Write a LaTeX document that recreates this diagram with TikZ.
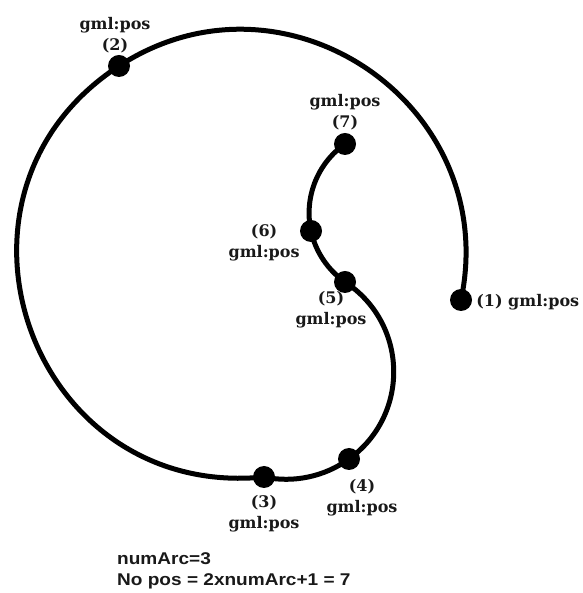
\documentclass[tikz,border=0pt]{standalone}
\usepackage{fontspec}
\setmainfont{DejaVu Serif}
\newfontfamily\notefont[FakeStretch=1.12]{Liberation Sans}
\usetikzlibrary{positioning}
\tikzset{
  dot/.style={circle, fill=black, inner sep=0pt, minimum size=22pt},
  curve/.style={line width=5pt, draw=black},
  tag/.style={font=\fontsize{16}{21}\selectfont\bfseries, align=center, inner sep=0pt, text=black!90},
  note/.style={font=\notefont\fontsize{17}{20}\selectfont\bfseries, align=left, inner sep=0pt, text=black!90}
}

\begin{document}
\begin{tikzpicture}[x=1pt, y=1pt]
  \useasboundingbox (0,0) rectangle (582,593);
  % positions along the curve
  \node[dot] (p1) at (461,293) {};
  \node[dot] (p2) at (119,527) {};
  \node[dot] (p3) at (264,116) {};
  \node[dot] (p4) at (349,134) {};
  \node[dot] (p5) at (345,311) {};
  \node[dot] (p6) at (311,362) {};
  \node[dot] (p7) at (345,449) {};
  % the three arcs
  \draw[curve] (p1.center) to[out=78.1, in=33.1, looseness=1.23] (p2.center)
                           to[out=213.1, in=185.7, looseness=1.38] (p3.center);
  \draw[curve] (p3.center) to[out=-11.9, in=215.8, looseness=0.89] (p4.center)
                           to[out=35.8, in=-33.2, looseness=1.09] (p5.center);
  \draw[curve] (p5.center) to[out=145, in=282.3, looseness=0.88] (p6.center)
                           to[out=102.3, in=215, looseness=0.93] (p7.center);
  % labels
  \node[tag, right=4pt of p1, yshift=-2pt] (l1) {(1) gml:pos};
  \node[tag, above=2pt of p2, xshift=-4pt] (l2) {gml:pos\\(2)};
  \node[tag, below=7pt of p3] (l3) {(3)\\gml:pos};
  \node[tag, below=9pt of p4, xshift=13pt] (l4) {(4)\\gml:pos};
  \node[tag, below=-2pt of p5, xshift=-14pt] (l5) {(5)\\gml:pos};
  \node[tag, left=0pt of p6, yshift=-12pt] (l6) {(6)\\gml:pos};
  \node[tag, above=3pt of p7] (l7) {gml:pos\\(7)};
  \node[note, anchor=base west] (arcs) at (117,28) {numArc=3};
  \node[note, anchor=base west] (count) at (117,8) {No pos = 2xnumArc+1 = 7};
\end{tikzpicture}
\end{document}
